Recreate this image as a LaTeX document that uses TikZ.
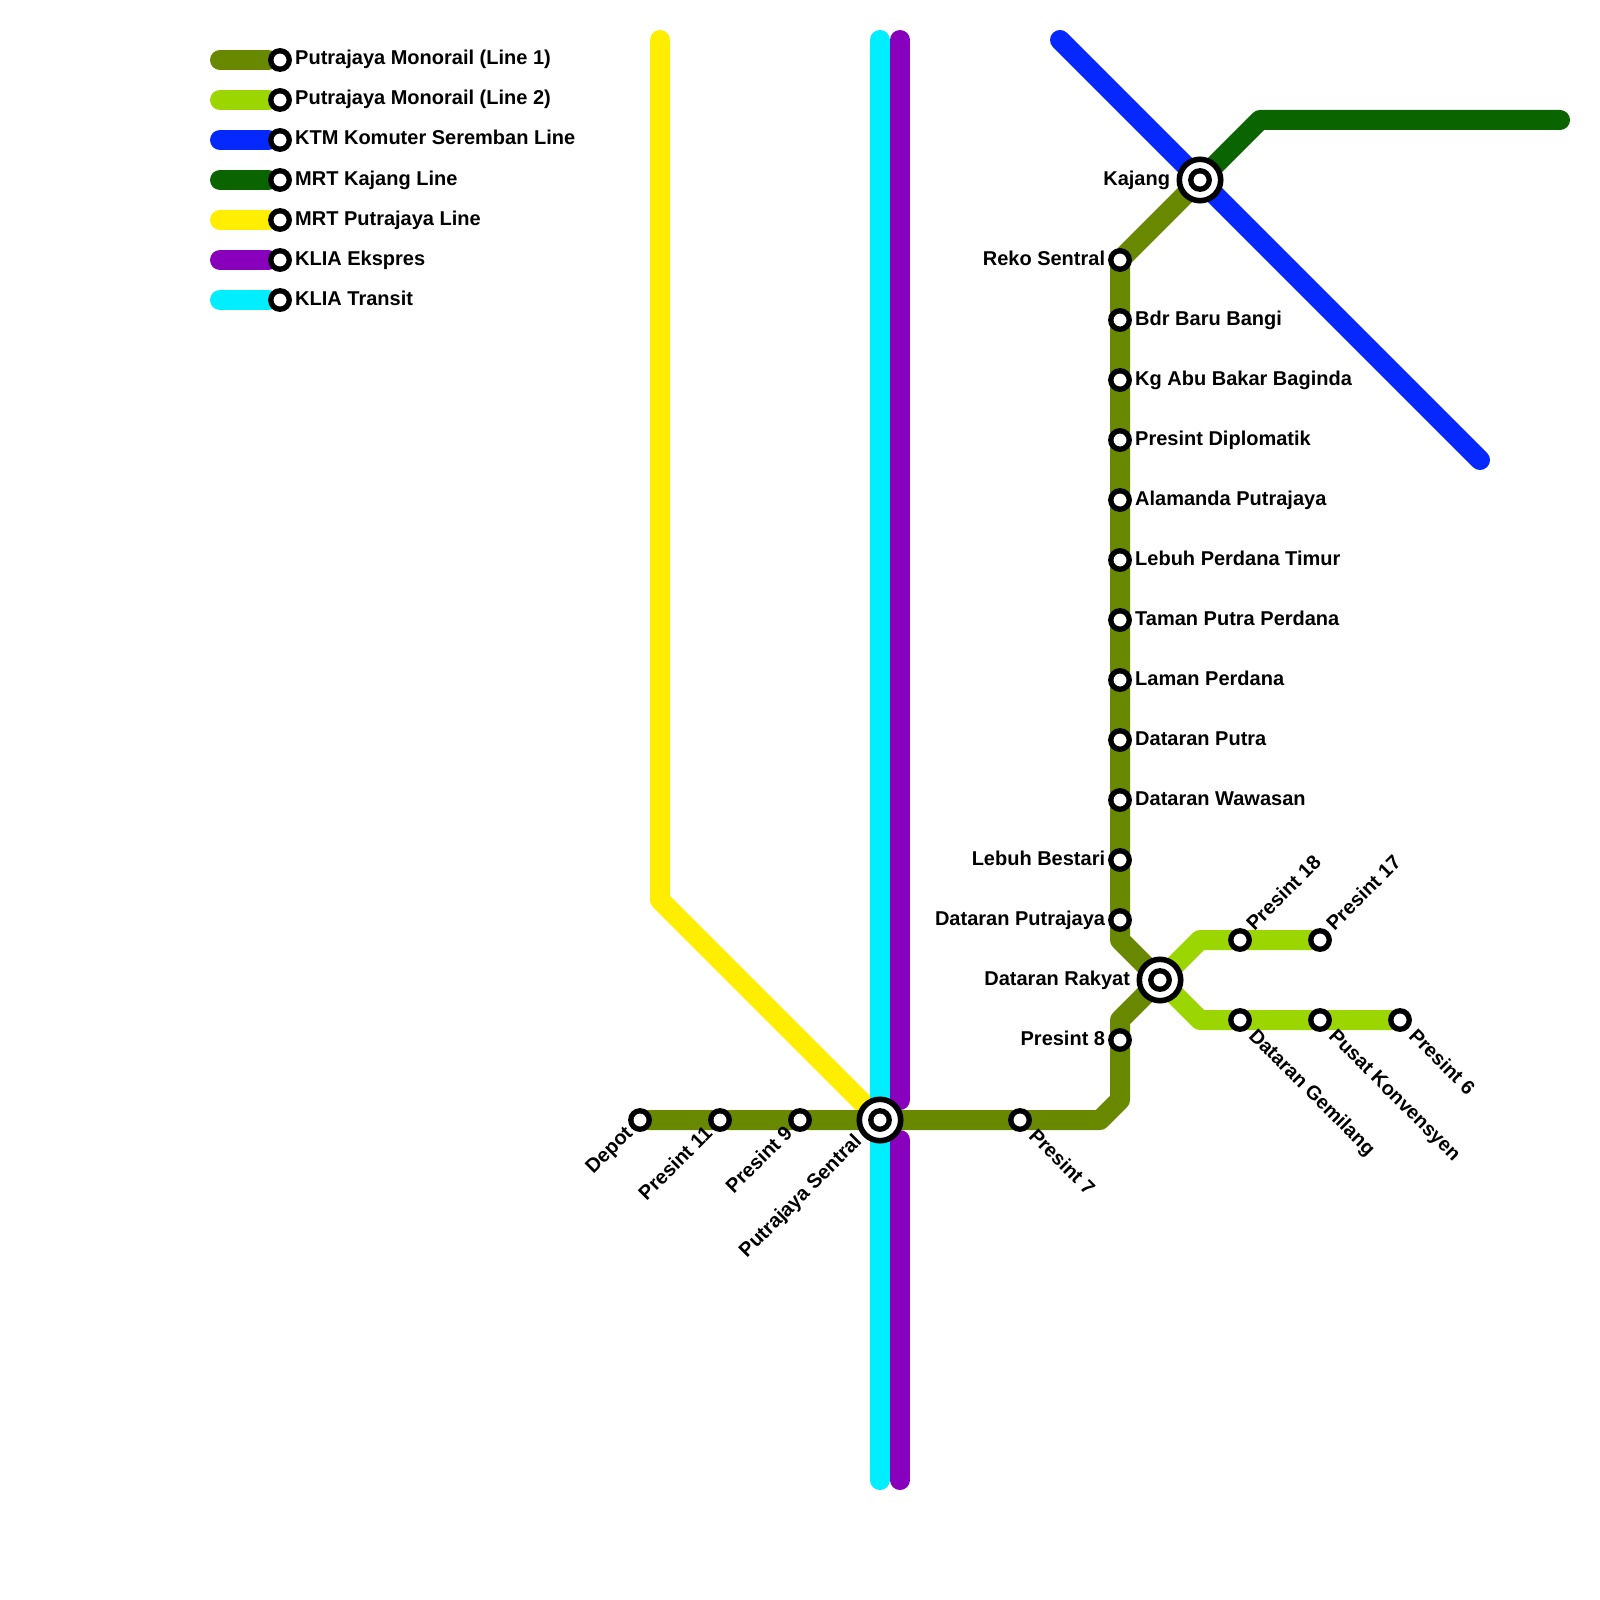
\documentclass[tikz,border=0pt]{standalone}
\usepackage{fontspec}
\setmainfont{Liberation Sans}
\usetikzlibrary{positioning,backgrounds}
\definecolor{lineone}{RGB}{104,136,0}
\definecolor{linetwo}{RGB}{155,214,0}
\definecolor{ktmblue}{RGB}{5,40,255}
\definecolor{kajanggreen}{RGB}{10,100,0}
\definecolor{mrtyellow}{RGB}{255,238,0}
\definecolor{ekspres}{RGB}{136,0,187}
\definecolor{transit}{RGB}{0,238,255}

\begin{document}
\begin{tikzpicture}[
    x=1pt, y=-1pt,
    track/.style={line width=20pt, line cap=round, line join=round},
    stop/.style={circle, draw=black, fill=white, line width=5.3pt, minimum size=18.5pt, inner sep=0pt, on grid},
    bigstop/.style={circle, draw=black, fill=white, line width=5.6pt, minimum size=41.4pt, inner sep=0pt},
    lbl/.style={inner sep=0pt, outer sep=0pt, font=\bfseries\fontsize{20}{24}\selectfont, text height=14pt, text depth=4pt},
    lblne/.style={lbl, rotate=45, anchor=west},
    lblse/.style={lbl, rotate=-45, anchor=west, font=\bfseries\fontsize{19.75}{24}\selectfont},
    lblsw/.style={lbl, rotate=45, anchor=east}
]
    \useasboundingbox (0,0) rectangle (1600,1600);

    % Legend
    \coordinate (ka) at (220,60);
    \coordinate (kb) at (220,100);
    \coordinate (kc) at (220,140);
    \coordinate (kd) at (220,180);
    \coordinate (ke) at (220,220);
    \coordinate (kf) at (220,260);
    \coordinate (kg) at (220,300);
    \node[stop] (sa) at (280,60) {};
    \node[stop] (sb) at (280,100) {};
    \node[stop] (sc) at (280,140) {};
    \node[stop] (sd) at (280,180) {};
    \node[stop] (se) at (280,220) {};
    \node[stop] (sf) at (280,260) {};
    \node[stop] (sg) at (280,300) {};
    \node[lbl, right=3.3pt of sa] (ta) {Putrajaya Monorail (Line 1)};
    \node[lbl, right=3.3pt of sb] (tb) {Putrajaya Monorail (Line 2)};
    \node[lbl, right=3.3pt of sc] (tc) {KTM Komuter Seremban Line};
    \node[lbl, right=3.3pt of sd] (td) {MRT Kajang Line};
    \node[lbl, right=3.3pt of se] (te) {MRT Putrajaya Line};
    \node[lbl, right=3.3pt of sf] (tf) {KLIA Ekspres};
    \node[lbl, right=3.3pt of sg] (tg) {KLIA Transit};

    % Interchanges
    \node[bigstop] (sentral) at (880,1120) {};
    \node[stop] (sentralin) at (880,1120) {};
    \node[bigstop] (rakyat) at (1160,980) {};
    \node[stop] (rakyatin) at (1160,980) {};
    \node[bigstop] (kajang) at (1200,180) {};
    \node[stop] (kajangin) at (1200,180) {};
    \node[lbl, left=6.5pt of rakyat] (trakyat) {Dataran Rakyat};
    \node[lbl, left=6.5pt of kajang] (tkajang) {Kajang};
    \node[lblsw] (tsentral) at ([shift={(-21,19)}]sentral) {Putrajaya Sentral};

    % Line 1 column
    \node[stop] (reko) at (1120,260) {};
    \node[stop, below=60pt of reko] (bangi) {};
    \node[stop, below=60pt of bangi] (abubakar) {};
    \node[stop, below=60pt of abubakar] (diplomatik) {};
    \node[stop, below=60pt of diplomatik] (alamanda) {};
    \node[stop, below=60pt of alamanda] (timur) {};
    \node[stop, below=60pt of timur] (tamanputra) {};
    \node[stop, below=60pt of tamanputra] (laman) {};
    \node[stop, below=60pt of laman] (putra) {};
    \node[stop, below=60pt of putra] (wawasan) {};
    \node[stop, below=60pt of wawasan] (bestari) {};
    \node[stop, below=60pt of bestari] (dputrajaya) {};
    \node[lbl, left=3pt of reko] (treko) {Reko Sentral};
    \node[lbl, right=3.3pt of bangi] (tbangi) {Bdr Baru Bangi};
    \node[lbl, right=3.3pt of abubakar] (tabubakar) {Kg Abu Bakar Baginda};
    \node[lbl, right=3.3pt of diplomatik] (tdiplomatik) {Presint Diplomatik};
    \node[lbl, right=3.3pt of alamanda] (talamanda) {Alamanda Putrajaya};
    \node[lbl, right=3.3pt of timur] (ttimur) {Lebuh Perdana Timur};
    \node[lbl, right=3.3pt of tamanputra] (ttamanputra) {Taman Putra Perdana};
    \node[lbl, right=3.3pt of laman] (tlaman) {Laman Perdana};
    \node[lbl, right=3.3pt of putra] (tputra) {Dataran Putra};
    \node[lbl, right=3.3pt of wawasan] (twawasan) {Dataran Wawasan};
    \node[lbl, left=3pt of bestari] (tbestari) {Lebuh Bestari};
    \node[lbl, left=3pt of dputrajaya] (tdputrajaya) {Dataran Putrajaya};

    % Line 1 south
    \node[stop] (presintb) at (1120,1040) {};
    \node[stop] (presintg) at (1020,1120) {};
    \node[stop] (presinti) at (800,1120) {};
    \node[stop, left=80pt of presinti] (presintk) {};
    \node[stop, left=80pt of presintk] (depot) {};
    \node[lbl, left=3pt of presintb] (tpresintb) {Presint 8};
    \node[lblse] (tpresintg) at ([shift={(11.5,13.5)}]presintg) {Presint 7};
    \node[lblsw] (tpresinti) at ([shift={(-10,11)}]presinti) {Presint 9};
    \node[lblsw] (tpresintk) at ([shift={(-10,11)}]presintk) {Presint 11};
    \node[lblsw] (tdepot) at ([shift={(-10,11)}]depot) {Depot};

    % Line 2
    \node[stop] (presintr) at (1240,940) {};
    \node[stop, right=80pt of presintr] (presintq) {};
    \node[stop] (gemilang) at (1240,1020) {};
    \node[stop, right=80pt of gemilang] (konvensyen) {};
    \node[stop, right=80pt of konvensyen] (presintf) {};
    \node[lblne] (tpresintr) at ([shift={(11,-12)}]presintr) {Presint 18};
    \node[lblne] (tpresintq) at ([shift={(11,-12)}]presintq) {Presint 17};
    \node[lblse] (tgemilang) at ([shift={(11.5,13.5)}]gemilang) {Dataran Gemilang};
    \node[lblse] (tkonvensyen) at ([shift={(11.5,13.5)}]konvensyen) {Pusat Konvensyen};
    \node[lblse] (tpresintf) at ([shift={(11.5,13.5)}]presintf) {Presint 6};

    % Bends and line ends
    \coordinate (yellowtop) at (660,40);
    \coordinate (yellowbend) at (660,900);
    \coordinate (transittop) at (880,40);
    \coordinate (transitend) at (880,1480);
    \coordinate (ekspresa) at (900,40);
    \coordinate (ekspresb) at (900,1100);
    \coordinate (ekspresc) at (900,1140);
    \coordinate (ekspresd) at (900,1480);
    \coordinate (ktmtop) at (1060,40);
    \coordinate (ktmend) at (1480,460);
    \coordinate (mrtbend) at (1260,120);
    \coordinate (mrtend) at (1560,120);
    \coordinate (bendone) at (1100,1120);
    \coordinate (bendtwo) at (1120,1100);
    \coordinate (bendthree) at (1120,1020);
    \coordinate (bendfour) at (1120,940);
    \coordinate (bendup) at (1200,940);
    \coordinate (benddown) at (1200,1020);

    \begin{scope}[on background layer]
        \draw[track, mrtyellow] (yellowtop) -- (yellowbend) -- (sentral.center);
        \draw[track, ekspres] (ekspresa) -- (ekspresb);
        \draw[track, ekspres] (ekspresc) -- (ekspresd);
        \draw[track, transit] (transittop) -- (transitend);
        \draw[track, ktmblue] (ktmtop) -- (ktmend);
        \draw[track, kajanggreen] (kajang.center) -- (mrtbend) -- (mrtend);
        \draw[track, linetwo] (rakyat.center) -- (bendup) -- (presintq.center);
        \draw[track, linetwo] (rakyat.center) -- (benddown) -- (presintf.center);
        \draw[track, lineone] (depot.center) -- (bendone) -- (bendtwo) -- (bendthree) -- (rakyat.center) -- (bendfour) -- (reko.center) -- (kajang.center);
        \draw[track, lineone] (ka) -- (sa);
        \draw[track, linetwo] (kb) -- (sb);
        \draw[track, ktmblue] (kc) -- (sc);
        \draw[track, kajanggreen] (kd) -- (sd);
        \draw[track, mrtyellow] (ke) -- (se);
        \draw[track, ekspres] (kf) -- (sf);
        \draw[track, transit] (kg) -- (sg);
    \end{scope}
\end{tikzpicture}
\end{document}
